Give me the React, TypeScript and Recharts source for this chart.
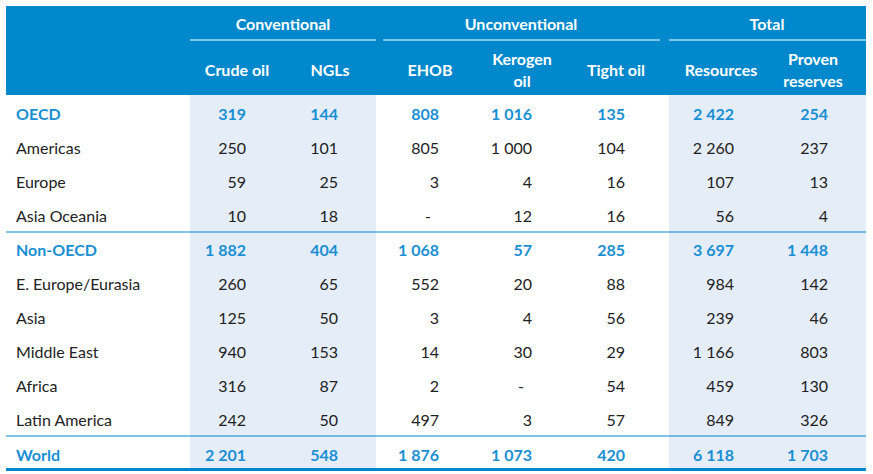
import React from "react";
import {
  ScatterChart,
  Scatter,
  XAxis,
  YAxis,
  ReferenceArea,
  ReferenceLine,
} from "recharts";

document.body.style.margin = "0";

const BLUE = "#0088cc";
const VALUE_BLUE = "#1a8fd3";
const SHADE = "#e5edf9";
const FONT = "Lato, 'Open Sans', sans-serif";

// table content
const ROWS = [
  "OECD",
  "Americas",
  "Europe",
  "Asia Oceania",
  "Non-OECD",
  "E. Europe/Eurasia",
  "Asia",
  "Middle East",
  "Africa",
  "Latin America",
  "World",
];
const BOLD_ROWS = ["OECD", "Non-OECD", "World"];

const CRUDE = ["319", "250", "59", "10", "1 882", "260", "125", "940", "316", "242", "2 201"];
const NGLS = ["144", "101", "25", "18", "404", "65", "50", "153", "87", "50", "548"];
const EHOB = ["808", "805", "3", "-", "1 068", "552", "3", "14", "2", "497", "1 876"];
const KEROGEN = ["1 016", "1 000", "4", "12", "57", "20", "4", "30", "-", "3", "1 073"];
const TIGHT = ["135", "104", "16", "16", "285", "88", "56", "29", "54", "57", "420"];
const RESOURCES = ["2 422", "2 260", "107", "56", "3 697", "984", "239", "1 166", "459", "849", "6 118"];
const PROVEN = ["254", "237", "13", "4", "1 448", "142", "46", "803", "130", "326", "1 703"];

const GROUPS = ["Conventional", "Unconventional", "Total"];
const SUB_HEADERS = [["Crude oil"], ["NGLs"], ["EHOB"], ["Kerogen", "oil"], ["Tight oil"], ["Resources"], ["Proven", "reserves"]];

// layout
const W = 873;
const H = 474;
const COLUMNS = [CRUDE, NGLS, EHOB, KEROGEN, TIGHT, RESOURCES, PROVEN];
const COL_RIGHT = [246, 338, 439, 532, 625, 734, 828];
const COL_CENTER = [237, 330, 430, 522, 616, 721, 813];
const GROUP_CENTER = [283, 521, 767];
const GROUP_SPAN = [[190, 376], [383, 660], [669, 866]];
const ROW_Y0 = 113;
const ROW_STEP = 34.1;

type Cell = { x: number; y: number; text: string; kind: string; anchor: string };

const cells: Cell[] = [];
ROWS.forEach((r, i) => {
  const y = ROW_Y0 + i * ROW_STEP;
  const bold = BOLD_ROWS.includes(r);
  cells.push({ x: 16, y, text: r, kind: bold ? "bold" : "plain", anchor: "start" });
  COLUMNS.forEach((col, c) => {
    cells.push({ x: COL_RIGHT[c], y, text: col[i], kind: bold ? "bold" : "plain", anchor: col[i] === "-" ? "end" : "end" });
  });
});

const headers: Cell[] = [];
GROUPS.forEach((g, i) => headers.push({ x: GROUP_CENTER[i], y: 23, text: g, kind: "head", anchor: "middle" }));
SUB_HEADERS.forEach((lines, i) => {
  if (lines.length === 1) {
    headers.push({ x: COL_CENTER[i], y: 69, text: lines[0], kind: "head", anchor: "middle" });
  } else {
    headers.push({ x: COL_CENTER[i], y: 58, text: lines[0], kind: "head", anchor: "middle" });
    headers.push({ x: COL_CENTER[i], y: 80, text: lines[1], kind: "head", anchor: "middle" });
  }
});

/* eslint-disable @typescript-eslint/no-explicit-any */
const renderText = (props: any) => {
  const { cx, cy, payload } = props;
  const p = payload as Cell;
  const fill = p.kind === "head" ? "#ffffff" : p.kind === "bold" ? VALUE_BLUE : "#222222";
  const weight = p.kind === "plain" ? 400 : 700;
  return (
    <text
      x={p.text === "-" ? cx - 8 : cx}
      y={cy}
      fill={fill}
      fontSize={16}
      fontWeight={weight}
      fontFamily={FONT}
      textAnchor={p.anchor as any}
      dominantBaseline="central"
    >
      {p.text}
    </text>
  );
};
/* eslint-enable @typescript-eslint/no-explicit-any */

export default function App() {
  return (
    <ScatterChart width={W} height={H} margin={{ top: 0, right: 0, bottom: 0, left: 0 }}>
      <XAxis type="number" dataKey="x" domain={[0, W]} hide />
      <YAxis type="number" dataKey="y" domain={[0, H]} reversed hide />
      <ReferenceArea x1={6} x2={866} y1={6} y2={95} fill={BLUE} fillOpacity={1} stroke="none" />
      <ReferenceArea x1={190} x2={376} y1={95} y2={468} fill={SHADE} fillOpacity={1} stroke="none" />
      <ReferenceArea x1={669} x2={866} y1={95} y2={468} fill={SHADE} fillOpacity={1} stroke="none" />
      {GROUP_SPAN.map(([a, b]) => (
        <ReferenceLine key={a} segment={[{ x: a, y: 40 }, { x: b, y: 40 }]} stroke="#ffffff" strokeWidth={1} />
      ))}
      <ReferenceLine segment={[{ x: 6, y: 232 }, { x: 866, y: 232 }]} stroke={BLUE} strokeWidth={1.2} />
      <ReferenceLine segment={[{ x: 6, y: 436 }, { x: 866, y: 436 }]} stroke={BLUE} strokeWidth={1.2} />
      <ReferenceLine segment={[{ x: 6, y: 469.5 }, { x: 866, y: 469.5 }]} stroke={BLUE} strokeWidth={3} />
      <Scatter data={headers} shape={renderText} isAnimationActive={false} />
      <Scatter data={cells} shape={renderText} isAnimationActive={false} />
    </ScatterChart>
  );
}
